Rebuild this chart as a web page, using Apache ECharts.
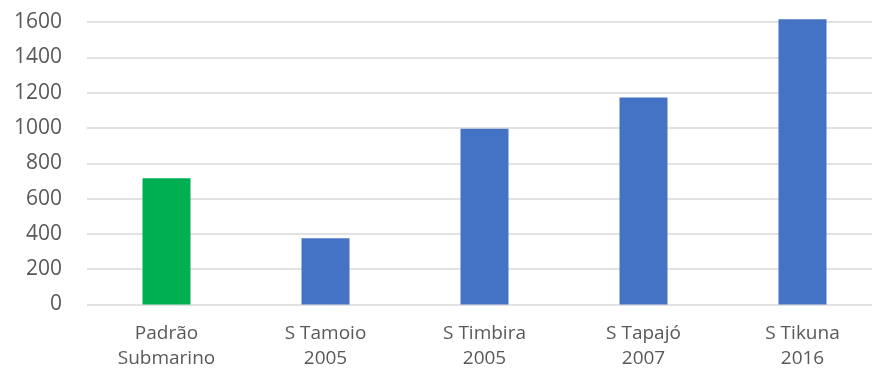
<!DOCTYPE html>
<html>
<head>
<meta charset="utf-8">
<script src="https://cdn.jsdelivr.net/npm/echarts@6/dist/echarts.min.js"></script>
<style>
  html, body { margin: 0; padding: 0; background: #fff; }
  #chart { width: 872px; height: 372px; }
</style>
</head>
<body>
<div id="chart"></div>
<script>
// Submarine classes and their values
const categories = ['Padrão\nSubmarino', 'S Tamoio\n2005', 'S Timbira\n2005', 'S Tapajó\n2007', 'S Tikuna\n2016'];
const values = [715, 375, 995, 1173, 1615];
const barColors = ['#00B050', '#4472C4', '#4472C4', '#4472C4', '#4472C4'];
const yTicks = { min: 0, max: 1600, interval: 200 };

const labelFont = '"Open Sans", Lato, sans-serif';
const chart = echarts.init(document.getElementById('chart'), null, { renderer: 'canvas' });

chart.setOption({
  animation: false,
  backgroundColor: '#ffffff',
  grid: {
    left: 87, top: 22, width: 795, height: 282.5,
    containLabel: false,
    outerBoundsMode: 'none'
  },
  xAxis: {
    type: 'category',
    data: categories,
    axisLine: { show: false },
    axisTick: { show: false },
    axisLabel: {
      color: '#595959',
      fontFamily: labelFont,
      fontSize: 19,
      lineHeight: 25,
      margin: 17
    }
  },
  yAxis: {
    type: 'value',
    min: yTicks.min,
    max: yTicks.max,
    interval: yTicks.interval,
    axisLine: { show: false },
    axisTick: { show: false },
    splitLine: { lineStyle: { color: '#d9d9d9', width: 1.5 } },
    axisLabel: {
      color: '#595959',
      fontFamily: labelFont,
      fontSize: 21,
      margin: 25,
      formatter: v => String(v)
    }
  },
  series: [{
    type: 'bar',
    barWidth: 48,
    clip: false,
    data: values.map((v, i) => ({ value: v, itemStyle: { color: barColors[i] } }))
  }]
});
</script>
</body>
</html>
